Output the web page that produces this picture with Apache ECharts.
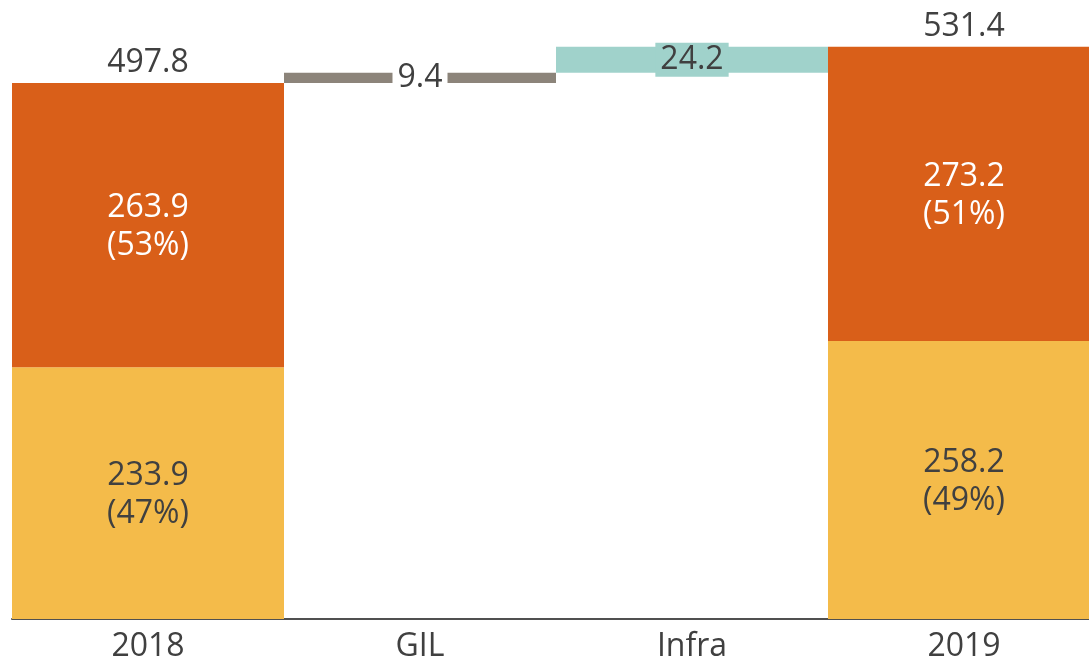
<!DOCTYPE html>
<html>
<head>
<meta charset="utf-8">
<script src="https://cdn.jsdelivr.net/npm/echarts@6/dist/echarts.min.js"></script>
<style>
  html, body { margin: 0; padding: 0; background: #ffffff; overflow: hidden; width: 1089px; height: 663px; }
  #chart { width: 1100px; height: 663px; }
</style>
</head>
<body>
<div id="chart"></div>
<script>
// Bridge from 2018 to 2019
const categories = ['2018', 'GIL', 'Infra', '2019'];
const lowerPart = [233.9, null, null, 258.2];   // yellow segment
const upperPart = [263.9, null, null, 273.2];   // orange segment
const changes = [null, 9.4, 24.2, null];        // step contributions
const changeColors = [null, '#8C847A', '#A0D2CB', null];
const changeLabelBg = [null, '#FFFFFF', '#A0D2CB', null];

const TEXT = '#404040';
const FONT = '"Open Sans", "Noto Sans", sans-serif';
const FS = 32;

// Totals of the stacked columns and the floating offsets of the steps
const totals = lowerPart.map((v, i) => v == null ? null : +(v + upperPart[i]).toFixed(1));
const offsets = [];
let running = totals[0];
changes.forEach((c, i) => {
  if (c == null) { offsets.push(null); return; }
  offsets.push(+running.toFixed(1));
  running += c;
});

const pct = (part, i) => Math.round(part / totals[i] * 100) + '%';
const dash = a => a.map(v => v == null ? '-' : v);

const chart = echarts.init(document.getElementById('chart'), null, { renderer: 'canvas' });

chart.setOption({
  animation: false,
  backgroundColor: '#ffffff',
  textStyle: { fontFamily: FONT },
  grid: { left: 12, top: 16, right: 0, bottom: 43, containLabel: false },
  xAxis: {
    type: 'category',
    data: categories,
    boundaryGap: true,
    axisLine: { show: true, lineStyle: { color: '#505050', width: 2 } },
    axisTick: { show: false },
    axisLabel: { color: TEXT, fontSize: FS, fontFamily: FONT, margin: 12 }
  },
  yAxis: {
    type: 'value',
    min: 0,
    max: 560,
    show: false,
    splitLine: { show: false }
  },
  series: [
    {
      name: 'lower',
      type: 'bar',
      stack: 'bridge',
      barWidth: '100%',
      data: dash(lowerPart),
      itemStyle: { color: '#F4BB4A' },
      label: {
        show: true,
        position: 'inside',
        offset: [0, 2],
        color: TEXT,
        fontSize: FS,
        fontFamily: FONT,
        lineHeight: 38,
        formatter: p => p.value.toFixed(1) + '\n(' + pct(p.value, p.dataIndex) + ')'
      }
    },
    {
      name: 'upper',
      type: 'bar',
      stack: 'bridge',
      barWidth: '100%',
      data: dash(upperPart),
      itemStyle: { color: '#D95F19' },
      label: {
        show: true,
        position: 'inside',
        offset: [0, 2],
        color: '#FFFFFF',
        fontSize: FS,
        fontFamily: FONT,
        lineHeight: 38,
        formatter: p => p.value.toFixed(1) + '\n(' + pct(p.value, p.dataIndex) + ')'
      }
    },
    {
      name: 'offset',
      type: 'bar',
      stack: 'bridge',
      barWidth: '100%',
      data: dash(offsets),
      itemStyle: { color: 'rgba(0,0,0,0)' },
      label: { show: false },
      silent: true
    },
    {
      name: 'change',
      type: 'bar',
      stack: 'bridge',
      barWidth: '100%',
      data: changes.map((v, i) => v == null ? '-' : {
        value: v,
        itemStyle: { color: changeColors[i] },
        label: { backgroundColor: changeLabelBg[i] }
      }),
      label: {
        show: true,
        position: 'inside',
        color: TEXT,
        fontSize: FS,
        fontFamily: FONT,
        padding: [1, 5, 1, 5],
        formatter: p => p.value.toFixed(1)
      }
    },
    {
      // invisible full-height columns that carry the total labels
      name: 'total',
      type: 'bar',
      barWidth: '100%',
      barGap: '-100%',
      z: 1,
      data: dash(totals),
      itemStyle: { color: 'rgba(255,255,255,0)' },
      label: {
        show: true,
        position: 'top',
        distance: 4,
        color: TEXT,
        fontSize: FS,
        fontFamily: FONT,
        formatter: p => p.value.toFixed(1)
      },
      silent: true
    }
  ]
});
</script>
</body>
</html>
